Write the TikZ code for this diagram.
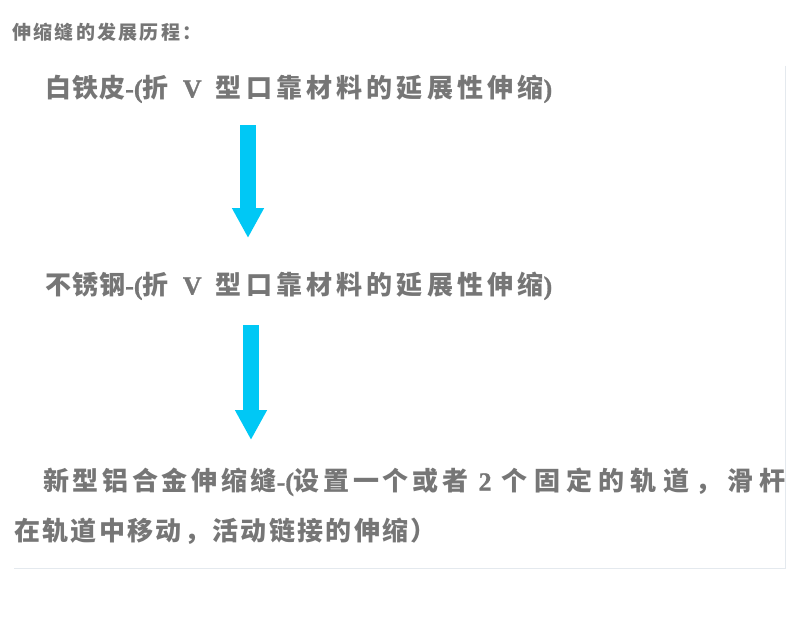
\documentclass[tikz,border=0pt]{standalone}
\usepackage{fontspec}
\setmainfont{Liberation Serif}
\newfontfamily\latf{Liberation Serif}[UprightFont={* Bold}, UprightFeatures={FakeBold=1}]
\newfontfamily\cjkn{Noto Sans CJK SC}[LetterSpace=4]
\newfontfamily\cjkw{Noto Sans CJK SC}[LetterSpace=16]
\newfontfamily\cjkm{Noto Sans CJK SC}[LetterSpace=14]
\newfontfamily\cjkx{Noto Sans CJK SC}[LetterSpace=24]
\newfontfamily\cjkl{Noto Sans CJK SC}[LetterSpace=9]
\newfontfamily\cjkt{Noto Sans CJK SC}[LetterSpace=12]
\usetikzlibrary{arrows.meta}
\definecolor{txt}{HTML}{767676}
\definecolor{arr}{HTML}{00C8F5}
\definecolor{framec}{HTML}{E4E9EE}
\newcommand\fsz[1]{\fontsize{#1}{#1}\selectfont}
\newcommand\lat[1]{{\latf #1}}
\newcommand\gap{\hspace{0.4em}}
\newcommand\wgap{\hspace{0.55em}}
\tikzset{
  title/.style={anchor=west, inner sep=0pt, text=txt, font=\cjkt\bfseries\fsz{19}},
  line/.style={anchor=west, inner sep=0pt, text=txt, font=\bfseries\fsz{26}},
  flow/.style={draw=arr, line width=16pt, -{Triangle[length=30pt,width=30pt]}},
  framel/.style={draw=framec, line width=1pt}
}
\begin{document}
\begin{tikzpicture}[x=1pt,y=-1pt]
\useasboundingbox (0,0) rectangle (792,618);
\fill[white] (0,0) rectangle (792,618);
% faint panel edges
\coordinate (fr) at (785,66);
\coordinate (fc) at (785,568);
\coordinate (fl) at (14,568);
\draw[framel] (fr) -- (fc) -- (fl);
% title
\node[title] (t) at (12,32) {伸缩缝的发展历程：};
% lines
\node[line] (l1) at (45,89) {{\cjkn 白铁皮}\lat{-(}{\cjkn 折}\wgap\lat{V}\wgap{\cjkw 型口靠材料的延展性伸缩}\lat{)}};
\node[line] (l2) at (45,286) {{\cjkn 不锈钢}\lat{-(}{\cjkn 折}\wgap\lat{V}\wgap{\cjkw 型口靠材料的延展性伸缩}\lat{)}};
\node[line] (l3) at (43,482) {{\cjkm 新型铝合金伸缩缝}\lat{-(}{\cjkm 设置一个或者}\gap\lat{2}\gap{\cjkx 个固定的轨道，滑杆}};
\node[line] (l4) at (14,531) {{\cjkl 在轨道中移动，活动链接的伸缩）}};
% arrows
\coordinate (a1s) at (248,125);
\coordinate (a1e) at (248,238);
\coordinate (a2s) at (251,325);
\coordinate (a2e) at (251,440);
\draw[flow] (a1s) -- (a1e);
\draw[flow] (a2s) -- (a2e);
\end{tikzpicture}
\end{document}
